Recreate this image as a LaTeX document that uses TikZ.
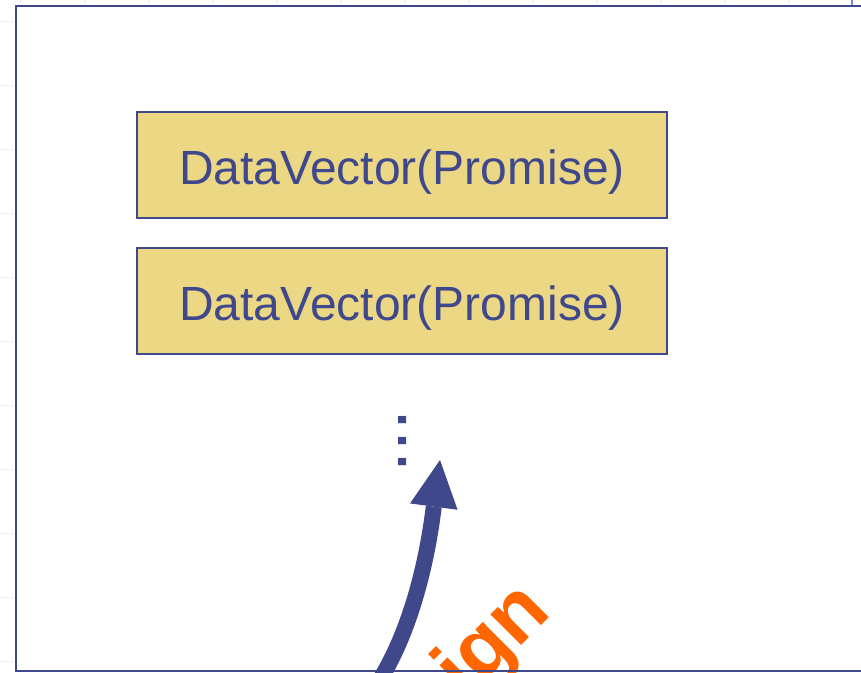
\documentclass[tikz,border=0pt]{standalone}
\usepackage{fontspec}
\setmainfont{Liberation Sans}
\usetikzlibrary{arrows.meta}

\definecolor{inkblue}{RGB}{64,72,140}
\definecolor{boxfill}{RGB}{235,215,132}
\definecolor{assignorange}{RGB}{255,102,0}
\definecolor{rulerblue}{RGB}{110,140,240}
\definecolor{tickfaint}{RGB}{222,229,248}

\tikzset{
  vecbox/.style={draw=inkblue, line width=1.3pt, fill=boxfill,
    minimum width=530pt, minimum height=106pt, inner sep=0pt,
    text=inkblue, font=\fontsize{48}{56}\selectfont,
    text height=38pt, text depth=0pt},
  moredots/.style={text=inkblue, font=\fontsize{76}{80}\selectfont,
    rotate=-90, anchor=base west, inner sep=0pt},
  steplabel/.style={text=assignorange, font=\bfseries\fontsize{82}{90}\selectfont,
    rotate=45, anchor=base west, inner sep=0pt},
  framerule/.style={draw=inkblue, line width=2pt},
  flowarrow/.style={draw=inkblue, line width=16pt,
    -{Triangle[length=47pt, width=48pt, line width=0pt]}},
  faintmark/.style={draw=tickfaint, line width=0.8pt}
}

\begin{document}
\begin{tikzpicture}[x=1pt, y=-1pt]
  \useasboundingbox (0,0) rectangle (861,672);
  \fill[white] (0,0) rectangle (861,672);

  % faint ruler marks along the top and left edges
  \foreach \k in {0,...,12} {
    \draw[faintmark] ({20+64*\k},0) -- ({20+64*\k},3);
  }
  \foreach \k in {0,...,10} {
    \draw[faintmark, dash pattern=on 2pt off 1.5pt] (0,{21.5+64*\k}) -- (13,{21.5+64*\k});
  }
  \draw[rulerblue, line width=2pt] (852,0) -- (852,5);

  % stacked data vectors
  \node[vecbox] (vec1) at (402,165) {DataVector(Promise)};
  \node[vecbox] (vec2) at (402,301) {DataVector(Promise)};

  % continuation marks
  \node[moredots] (more) at (398.7,409) {...};

  % curved arrow rising towards the stack
  \coordinate (arrowfoot) at (381,678);
  \coordinate (arrowtip) at (440,460);
  \path[flowarrow] (arrowfoot) .. controls (422,610) and (432,520) .. (arrowtip);

  % rotated step label
  \node[steplabel] (step) at (466,701) {ign};

  % slide frame
  \draw[framerule] (861,6) -- (16,6) -- (16,670.5) -- (861,670.5);
\end{tikzpicture}
\end{document}
